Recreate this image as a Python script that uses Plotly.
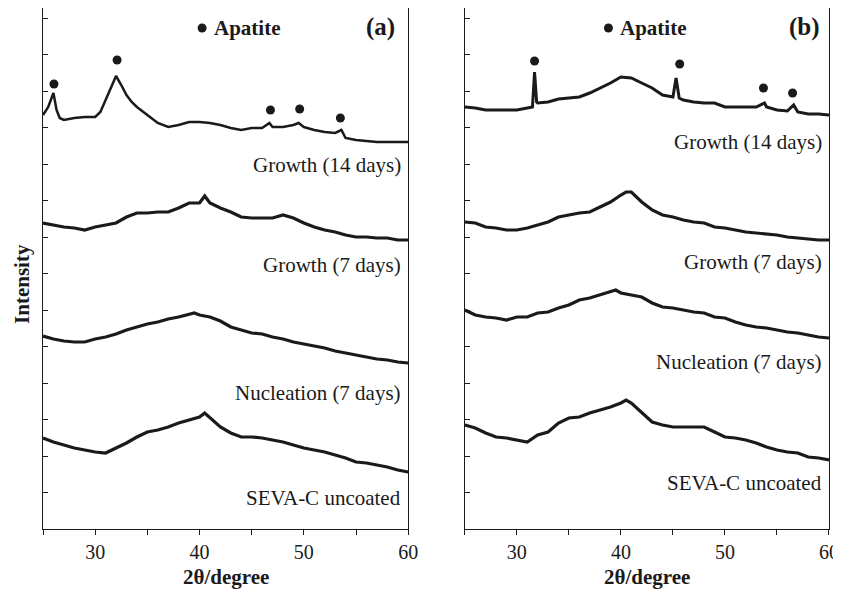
import plotly.graph_objects as go

# ---------------- data (2θ in degrees, intensity in arbitrary offset units) ----------------
# Panel (a)
a_growth14_x = [25, 25.5, 26, 26.3, 26.6, 27, 28, 29, 30, 30.5, 31, 31.5, 32, 32.5, 33, 33.5, 34,
                35, 36, 37, 38, 39, 40, 41, 42, 43, 44, 45, 46, 46.7, 47, 48, 49, 49.5, 50, 51, 52,
                53, 53.6, 54, 55, 56, 57, 58, 59, 60]
a_growth14_y = [414, 422, 436, 419, 411, 409, 411, 412, 412, 417, 429, 442, 453, 444, 434, 427, 422,
                414, 406, 402, 404, 407, 407, 406, 404, 401, 399, 401, 401, 406, 402, 402, 404, 406,
                402, 399, 397, 396, 399, 391, 389, 388, 387, 387, 387, 387]

a_growth7_x = [25, 26, 27, 28, 29, 30, 31, 32, 33, 34, 35, 36, 37, 38, 39, 40, 40.5, 41, 42, 43, 44,
               45, 46, 47, 48, 49, 50, 51, 52, 53, 54, 55, 56, 57, 58, 59, 60]
a_growth7_y = [306, 304, 302, 301, 299, 302, 304, 306, 312, 316, 316, 317, 317, 321, 326, 326, 333,
               326, 321, 317, 312, 311, 311, 311, 314, 311, 306, 302, 299, 297, 294, 292, 292, 291,
               291, 289, 289]

a_nucl7_x = [25, 26, 27, 28, 29, 30, 31, 32, 33, 34, 35, 36, 37, 38, 39, 39.5, 40, 41, 42, 43, 44,
             45, 46, 47, 48, 49, 50, 51, 52, 53, 54, 55, 56, 57, 58, 59, 60]
a_nucl7_y = [193, 190, 188, 187, 187, 190, 192, 195, 199, 202, 205, 207, 210, 212, 215, 216, 214,
             212, 208, 202, 199, 196, 195, 192, 190, 187, 185, 183, 181, 178, 176, 174, 172, 170,
             169, 167, 166]

a_seva_x = [25, 26, 27, 28, 29, 30, 31, 32, 33, 34, 35, 36, 37, 38, 39, 40, 40.5, 41, 42, 43, 44,
            45, 46, 47, 48, 49, 50, 51, 52, 53, 54, 55, 56, 57, 58, 59, 60]
a_seva_y = [91, 87, 84, 81, 79, 77, 76, 81, 86, 92, 97, 99, 102, 106, 109, 112, 116, 111, 102, 96,
            92, 92, 91, 89, 87, 84, 81, 79, 77, 74, 71, 67, 66, 64, 62, 59, 57]

a_dots_x = [26.05, 32.1, 46.8, 49.6, 53.5]
a_dots_y = [445, 469, 419, 420, 411]

# Panel (b)
b_growth14_x = [25, 26, 27, 28, 29, 30, 31, 31.5, 31.7, 31.9, 32, 33, 34, 35, 36, 37, 38, 39, 40,
                41, 42, 43, 44, 45, 45.3, 45.6, 46, 47, 48, 49, 50, 51, 52, 53, 53.8, 54, 55, 56,
                56.6, 57, 58, 59, 60]
b_growth14_y = [422, 421, 419, 419, 419, 419, 421, 422, 457, 427, 426, 427, 430, 431, 432, 436, 441,
                446, 452, 451, 446, 441, 434, 432, 451, 431, 429, 427, 426, 426, 422, 422, 422, 422,
                426, 422, 419, 418, 424, 417, 415, 415, 414]

b_growth7_x = [25, 26, 27, 28, 29, 30, 31, 32, 33, 34, 35, 36, 37, 38, 39, 40, 40.5, 41, 41.5, 42,
               43, 44, 45, 46, 47, 48, 49, 50, 51, 52, 53, 54, 55, 56, 57, 58, 59, 60]
b_growth7_y = [307, 306, 302, 301, 299, 299, 301, 304, 307, 312, 314, 316, 317, 322, 327, 334, 337,
               337, 332, 327, 319, 314, 312, 309, 307, 306, 302, 301, 299, 297, 296, 295, 294, 292,
               291, 290, 289, 289]

b_nucl7_x = [25, 26, 27, 28, 29, 30, 31, 32, 33, 34, 35, 36, 37, 38, 39, 39.5, 40, 41, 42, 43, 44,
             45, 46, 47, 48, 49, 50, 51, 52, 53, 54, 55, 56, 57, 58, 59, 60]
b_nucl7_y = [219, 214, 212, 211, 209, 212, 212, 216, 217, 221, 224, 229, 231, 234, 237, 239, 236,
             234, 232, 226, 222, 221, 219, 217, 216, 212, 211, 207, 204, 202, 201, 199, 197, 196,
             194, 192, 191]

b_seva_x = [25, 26, 27, 28, 29, 30, 31, 32, 33, 34, 35, 36, 37, 38, 39, 40, 40.5, 41, 42, 43, 44,
            45, 46, 47, 48, 49, 50, 51, 52, 53, 54, 55, 56, 57, 58, 59, 60]
b_seva_y = [104, 101, 96, 92, 91, 89, 87, 94, 97, 106, 111, 112, 116, 119, 122, 126, 129, 126, 117,
            107, 104, 102, 102, 102, 102, 97, 92, 91, 89, 86, 82, 79, 77, 76, 72, 71, 69]

b_dots_x = [31.7, 45.65, 53.7, 56.5]
b_dots_y = [468, 465, 441, 436]

labels = ["Growth (14 days)", "Growth (7 days)", "Nucleation (7 days)", "SEVA-C uncoated"]
a_label_y = [364, 264, 136, 31]
b_label_y = [387, 267, 167, 46]

legend_dot = {"a": (40.25, 501), "b": (38.8, 501)}
legend_text_x = {"a": 41.2, "b": 39.7}
panel_tag = {"a": (57.3, 502), "b": (57.6, 502)}

# ---------------- figure ----------------
FONT = "Liberation Serif"
INK = "#1a1a1a"
fig = go.Figure()

panels = {
    "a": ("x", "y", [(a_growth14_x, a_growth14_y), (a_growth7_x, a_growth7_y),
                     (a_nucl7_x, a_nucl7_y), (a_seva_x, a_seva_y)], (a_dots_x, a_dots_y), a_label_y),
    "b": ("x2", "y2", [(b_growth14_x, b_growth14_y), (b_growth7_x, b_growth7_y),
                       (b_nucl7_x, b_nucl7_y), (b_seva_x, b_seva_y)], (b_dots_x, b_dots_y), b_label_y),
}
widths = {"a": [2.5, 3.2, 3.2, 3.2], "b": [3.0, 3.2, 3.2, 3.2]}

annotations = []
for key, (xa, ya, curves, dots, laby) in panels.items():
    for i, (cx, cy) in enumerate(curves):
        fig.add_trace(go.Scatter(x=cx, y=cy, mode="lines", xaxis=xa, yaxis=ya,
                                 line=dict(color=INK, width=widths[key][i]),
                                 showlegend=False, hoverinfo="skip"))
    fig.add_trace(go.Scatter(x=dots[0], y=dots[1], mode="markers", xaxis=xa, yaxis=ya,
                             marker=dict(color=INK, size=9), showlegend=False))
    fig.add_trace(go.Scatter(x=[legend_dot[key][0]], y=[legend_dot[key][1]], mode="markers",
                             xaxis=xa, yaxis=ya, marker=dict(color=INK, size=9), showlegend=False))
    for txt, yy in zip(labels, laby):
        annotations.append(dict(x=59.5, y=yy, xref=xa, yref=ya, text=txt, showarrow=False,
                                xanchor="right", yanchor="middle",
                                font=dict(family=FONT, size=21, color=INK)))
    annotations.append(dict(x=legend_text_x[key], y=legend_dot[key][1], xref=xa, yref=ya,
                            text="<b>Apatite</b>", showarrow=False, xanchor="left",
                            yanchor="middle", font=dict(family=FONT, size=21, color=INK)))
    annotations.append(dict(x=panel_tag[key][0], y=panel_tag[key][1], xref=xa, yref=ya,
                            text="<b>(%s)</b>" % key, showarrow=False, xanchor="center",
                            yanchor="middle", font=dict(family=FONT, size=25, color=INK)))
    annotations.append(dict(x=42.5, y=-0.092, xref=xa, yref="paper", text="<b>2θ/degree</b>",
                            showarrow=False, xanchor="center", yanchor="middle",
                            font=dict(family=FONT, size=21, color=INK)))

annotations.append(dict(x=-0.027, y=0.47, xref="paper", yref="paper", text="<b>Intensity</b>",
                        textangle=-90, showarrow=False, xanchor="center", yanchor="middle",
                        font=dict(family=FONT, size=21, color=INK)))

xcommon = dict(range=[25, 60], tick0=0, dtick=10, ticks="outside", ticklen=5, tickwidth=1,
               tickcolor=INK, showline=True, linecolor=INK, linewidth=1, mirror=True,
               showgrid=False, zeroline=False, ticklabeloverflow="allow",
               tickfont=dict(family=FONT, size=20, color=INK),
               minor=dict(dtick=5, ticks="outside", ticklen=5, tickwidth=1, tickcolor=INK))
ycommon = dict(range=[0, 521], tick0=0, dtick=36.5, ticks="inside", ticklen=5, tickwidth=1,
               tickcolor=INK, showticklabels=False, showline=True, linecolor=INK, linewidth=1,
               mirror=True, showgrid=False, zeroline=False)

# page body adds an 8 px margin, so the figure is sized to end at the window edge
fig.update_layout(
    width=833, height=581,
    margin=dict(l=35, r=12, t=0, b=60),
    paper_bgcolor="white", plot_bgcolor="white",
    xaxis=dict(domain=[0, 0.4646], anchor="y", **xcommon),
    xaxis2=dict(domain=[0.5367, 1], anchor="y2", **xcommon),
    yaxis=dict(anchor="x", **ycommon),
    yaxis2=dict(anchor="x2", **ycommon),
    annotations=annotations,
)

fig.write_html("out.html")
